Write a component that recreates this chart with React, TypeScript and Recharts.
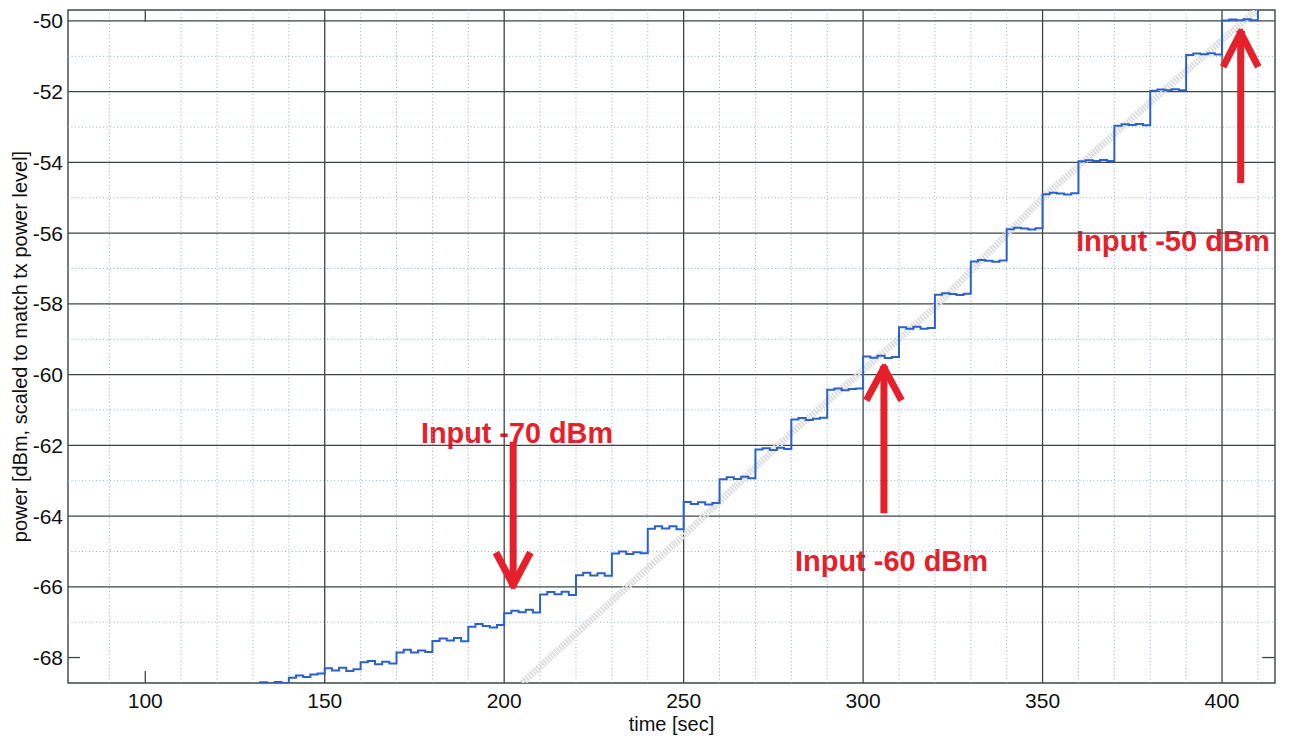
import React from 'react';
import {
    LineChart,
    Line,
    XAxis,
    YAxis,
    ReferenceLine,
    ReferenceArea,
    Customized,
} from 'recharts';

// time axis (sec)
const xTicks = [100, 150, 200, 250, 300, 350, 400];
const xMajorGrid = [150, 200, 250, 300, 350, 400];
const xMinorGrid = [90, 110, 120, 130, 140, 160, 170, 180, 190, 210, 220, 230, 240, 260, 270, 280, 290, 310, 320, 330, 340, 360, 370, 380, 390, 410];

// power axis (dBm)
const yTicks = [-68, -66, -64, -62, -60, -58, -56, -54, -52, -50];
const yMajorGrid = [-66, -64, -62, -60, -58, -56, -54, -52, -50];
const yMinorGrid = [-67, -65, -63, -61, -59, -57, -55, -53, -51];

// measured staircase: one row per 10 s step, readings every 2 s
const stepStarts = [130, 140, 150, 160, 170, 180, 190, 200, 210, 220, 230, 240, 250, 260, 270, 280, 290, 300, 310, 320, 330, 340, 350, 360, 370, 380, 390, 400];
const stepReadings = [
    [-68.75, -68.70, -68.74, -68.69, -68.72],
    [-68.57, -68.51, -68.55, -68.48, -68.45],
    [-68.30, -68.37, -68.29, -68.38, -68.33],
    [-68.13, -68.10, -68.19, -68.12, -68.17],
    [-67.86, -67.78, -67.86, -67.80, -67.84],
    [-67.53, -67.46, -67.52, -67.45, -67.54],
    [-67.13, -67.05, -67.11, -67.15, -67.08],
    [-66.75, -66.68, -66.72, -66.65, -66.73],
    [-66.22, -66.15, -66.21, -66.14, -66.23],
    [-65.67, -65.60, -65.68, -65.62, -65.69],
    [-65.06, -65.00, -65.07, -65.02, -65.05],
    [-64.36, -64.29, -64.35, -64.29, -64.37],
    [-63.60, -63.66, -63.61, -63.67, -63.63],
    [-62.96, -62.90, -62.95, -62.89, -62.93],
    [-62.12, -62.08, -62.13, -62.07, -62.10],
    [-61.27, -61.23, -61.28, -61.25, -61.22],
    [-60.43, -60.39, -60.44, -60.41, -60.39],
    [-59.49, -59.52, -59.47, -59.53, -59.50],
    [-58.66, -58.70, -58.65, -58.70, -58.68],
    [-57.74, -57.70, -57.72, -57.75, -57.71],
    [-56.80, -56.76, -56.78, -56.81, -56.77],
    [-55.89, -55.85, -55.87, -55.90, -55.86],
    [-54.90, -54.86, -54.88, -54.91, -54.87],
    [-53.97, -53.94, -53.96, -53.93, -53.96],
    [-52.96, -52.92, -52.94, -52.91, -52.95],
    [-51.97, -51.94, -51.96, -51.93, -51.96],
    [-50.96, -50.92, -50.94, -50.91, -50.95],
    [-49.99, -49.96, -49.98, -49.95, -49.98],
];
const stepEnd = { t: 410, p: -49.4 };

// light gray reference trace
const refTimes = [205, 250, 280, 320, 350, 380, 410];
const refPower = [-68.72, -64.55, -61.65, -58.1, -55.0, -52.3, -49.66];

// red annotation arrows (x in sec, y in dBm)
const arrows = [
    { x: 202.5, from: -61.9, tip: -65.98, half: 4.8, len: 0.95 },
    { x: 305.8, from: -63.92, tip: -59.78, half: 4.9, len: 0.95 },
    { x: 405.2, from: -54.58, tip: -50.3, half: 4.9, len: 1.0 },
];
const notes = [
    { text: 'Input -70 dBm', x: 421, y: 443, w: 192 },
    { text: 'Input -60 dBm', x: 795, y: 571, w: 193 },
    { text: 'Input -50 dBm', x: 1076, y: 251, w: 194 },
];

const xDomain: [number, number] = [78.47, 414.76];
const yDomain: [number, number] = [-68.72, -49.69];

const blueData: { t: number; p: number }[] = [];
stepStarts.forEach((start, i) => {
    stepReadings[i].forEach((p, j) => blueData.push({ t: start + j * 2, p }));
});
blueData.push(stepEnd);

const refData = refTimes.map((t, i) => ({ t, p: refPower[i] }));

const FONT = '"Liberation Sans", Arial, Helvetica, sans-serif';
const RED = '#e6202a';
const GRID = '#3f4545';

const Notes = () => (
    <g>
        {notes.map((n) => (
            <text
                key={n.text}
                x={n.x}
                y={n.y}
                fill={RED}
                fontFamily={FONT}
                fontWeight="bold"
                fontSize={29}
                textLength={n.w}
                lengthAdjust="spacingAndGlyphs"
            >
                {n.text}
            </text>
        ))}
    </g>
);

const App = () => {
    const dir = (a: typeof arrows[number]) => (a.tip > a.from ? -1 : 1);
    return (
        <div style={{ width: 1293, height: 738, background: '#fff' }}>
            <style>{'body{margin:0}'}</style>
            <LineChart
                width={1293}
                height={738}
                margin={{ top: 10, right: 18, bottom: 0, left: 0 }}
                style={{ fontFamily: FONT }}
            >
                <XAxis
                    dataKey="t"
                    type="number"
                    domain={xDomain}
                    allowDataOverflow
                    ticks={xTicks}
                    height={55}
                    tickLine={false}
                    axisLine={false}
                    tickMargin={4}
                    fontSize={21}
                    tick={{ fill: '#111', fontSize: 21 }}
                    label={{ value: 'time [sec]', position: 'insideBottom', offset: 7, fill: '#111', fontSize: 20 }}
                />
                <YAxis
                    type="number"
                    domain={yDomain}
                    allowDataOverflow
                    ticks={yTicks}
                    width={68}
                    tickLine={false}
                    axisLine={false}
                    tickSize={4}
                    tickMargin={1}
                    fontSize={21}
                    tick={{ fill: '#111', fontSize: 21 }}
                    label={({ viewBox }: any) => (
                        <text
                            x={viewBox.x + 27}
                            y={viewBox.y + viewBox.height / 2}
                            transform={`rotate(-90 ${viewBox.x + 27} ${viewBox.y + viewBox.height / 2})`}
                            textAnchor="middle"
                            fill="#111"
                            fontSize={20}
                            fontFamily={FONT}
                        >
                            power [dBm, scaled to match tx power level]
                        </text>
                    )}
                />

                {xMinorGrid.map((v) => (
                    <ReferenceLine key={`xm${v}`} x={v} stroke="#8fb0c6" strokeDasharray="1 2.5" strokeWidth={1} />
                ))}
                {yMinorGrid.map((v) => (
                    <ReferenceLine key={`ym${v}`} y={v} stroke="#8fb0c6" strokeDasharray="1 2.5" strokeWidth={1} />
                ))}
                {xMajorGrid.map((v) => (
                    <ReferenceLine key={`xM${v}`} x={v} stroke={GRID} strokeWidth={1.3} />
                ))}
                {yMajorGrid.map((v) => (
                    <ReferenceLine key={`yM${v}`} y={v} stroke={GRID} strokeWidth={1.3} />
                ))}

                {/* inside tick marks where no grid line covers them */}
                <ReferenceLine segment={[{ x: 100, y: -68.72 }, { x: 100, y: -68.38 }]} stroke={GRID} strokeWidth={1.3} />
                <ReferenceLine segment={[{ x: 100, y: -49.69 }, { x: 100, y: -50.02 }]} stroke={GRID} strokeWidth={1.3} />
                <ReferenceLine segment={[{ x: 78.47, y: -68 }, { x: 81.8, y: -68 }]} stroke={GRID} strokeWidth={1.3} />
                <ReferenceLine segment={[{ x: 411.2, y: -68 }, { x: 414.76, y: -68 }]} stroke={GRID} strokeWidth={1.3} />

                <ReferenceArea
                    x1={xDomain[0]}
                    x2={xDomain[1]}
                    y1={yDomain[0]}
                    y2={yDomain[1]}
                    fill="none"
                    stroke={GRID}
                    strokeWidth={1.4}
                />

                <Line
                    data={refData}
                    dataKey="p"
                    type="linear"
                    stroke="#dedede"
                    strokeWidth={7}
                    strokeDasharray="2 1"
                    dot={false}
                    isAnimationActive={false}
                />
                <Line
                    data={blueData}
                    dataKey="p"
                    type="stepAfter"
                    stroke="#2b62c9"
                    strokeWidth={2}
                    dot={false}
                    isAnimationActive={false}
                />

                {arrows.map((a, i) => (
                    <ReferenceLine
                        key={`as${i}`}
                        segment={[{ x: a.x, y: a.from }, { x: a.x, y: a.tip + dir(a) * 0.12 }]}
                        stroke={RED}
                        strokeWidth={7}
                    />
                ))}
                {arrows.map((a, i) => (
                    <ReferenceLine
                        key={`al${i}`}
                        segment={[{ x: a.x - a.half, y: a.tip + dir(a) * a.len }, { x: a.x + 0.4, y: a.tip - dir(a) * 0.05 }]}
                        stroke={RED}
                        strokeWidth={7}
                    />
                ))}
                {arrows.map((a, i) => (
                    <ReferenceLine
                        key={`ar${i}`}
                        segment={[{ x: a.x + a.half, y: a.tip + dir(a) * a.len }, { x: a.x - 0.4, y: a.tip - dir(a) * 0.05 }]}
                        stroke={RED}
                        strokeWidth={7}
                    />
                ))}

                <Customized component={Notes} />
            </LineChart>
        </div>
    );
};

export default App;
